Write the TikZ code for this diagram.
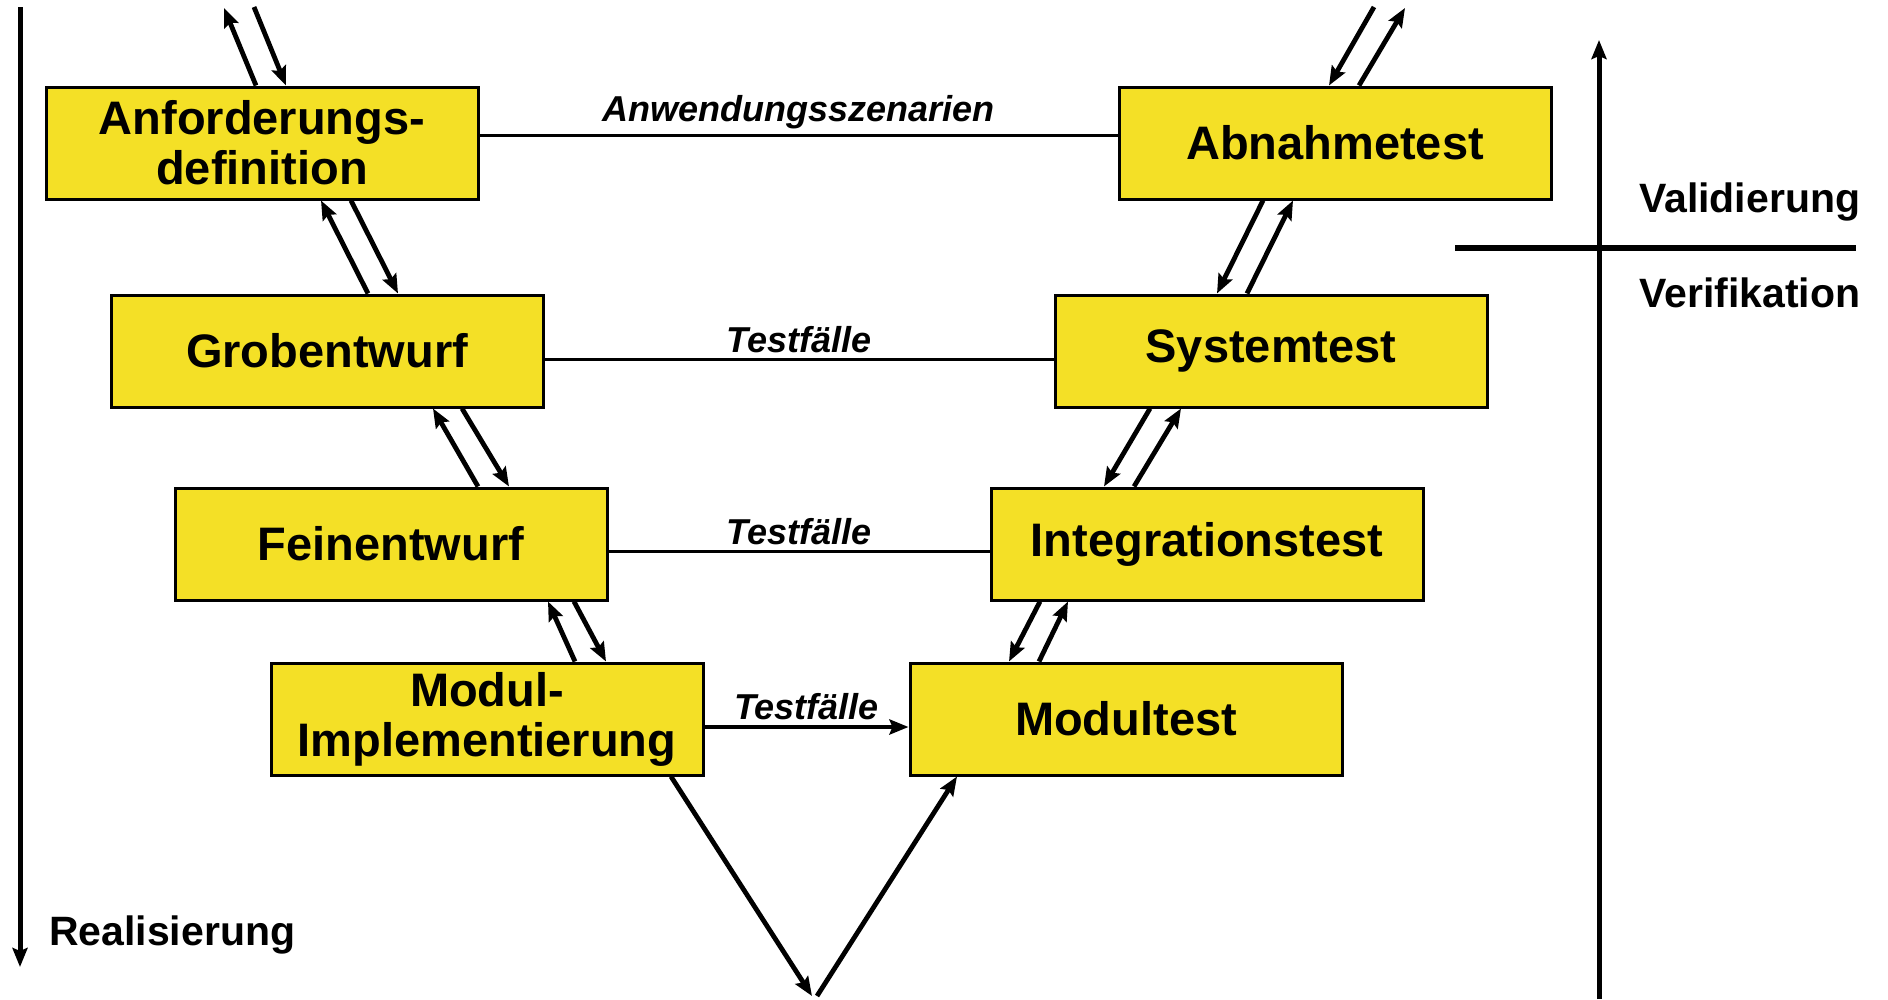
\documentclass[tikz,border=0pt]{standalone}
\usepackage{fontspec}
\setmainfont{Liberation Sans}
\usetikzlibrary{arrows.meta}
\definecolor{vyellow}{RGB}{244,224,38}
\tikzset{
  box/.style={draw, line width=3pt, fill=vyellow, align=center, minimum width=432pt, minimum height=112pt, inner sep=0pt, font=\fontsize{47}{50}\selectfont\bfseries},
  lbl/.style={above, inner sep=5pt, font=\fontsize{36}{40}\selectfont\bfseries\itshape},
  side/.style={font=\fontsize{41}{44}\selectfont\bfseries, inner sep=0pt, anchor=base west},
  flow/.style={line width=4.8pt, -{Stealth[length=19pt, width=15pt, inset=3pt]}}
}
\begin{document}
\begin{tikzpicture}[x=1pt, y=-1pt]
    \useasboundingbox (0,0) rectangle (1888,999);
    % left branch
    \node[box] (A) at (262,143) {Anforderungs-\\definition};
    \node[box] (B) at (327,351) {Grobentwurf};
    \node[box] (C) at (391,544) {Feinentwurf};
    \node[box] (D) at (487,719) {Modul-\\Implementierung};
    % right branch
    \node[box] (E) at (1335,143) {Abnahmetest};
    \node[box] (F) at (1271,351) {Systemtest};
    \node[box] (G) at (1207,544) {Integrationstest};
    \node[box] (H) at (1126,719) {Modultest};

    \draw[line width=3pt] ([yshift=8pt]A.east) -- node[lbl] (L1) {Anwendungsszenarien} ([yshift=8pt]E.west);
    \draw[line width=3pt] ([yshift=-8pt]B.east) -- node[lbl] (L2) {Testfälle} ([yshift=-8pt]F.west);
    \draw[line width=3pt] ([yshift=-7pt]C.east) -- node[lbl] (L3) {Testfälle} ([yshift=-7pt]G.west);
    \draw[flow] ([yshift=-8pt]D.east) -- node[lbl] (L4) {Testfälle} ([yshift=-8pt]H.west);

    % arrows between the stages
    \coordinate (AU) at (224,8);
    \coordinate (AD) at (254,7);
    \draw[flow] ([xshift=-6pt]A.north) -- (AU);
    \draw[flow] (AD) -- ([xshift=24pt]A.north);
    \draw[flow] ([xshift=41pt]B.north) -- ([xshift=59pt]A.south);
    \draw[flow] ([xshift=89pt]A.south) -- ([xshift=71pt]B.north);
    \draw[flow] ([xshift=87pt]C.north) -- ([xshift=106pt]B.south);
    \draw[flow] ([xshift=135pt]B.south) -- ([xshift=118pt]C.north);
    \draw[flow] ([xshift=88pt]D.north) -- ([xshift=157pt]C.south);
    \draw[flow] ([xshift=183pt]C.south) -- ([xshift=119pt]D.north);

    \coordinate (ED) at (1374,7);
    \coordinate (EU) at (1405,8);
    \draw[flow] (ED) -- ([xshift=-6pt]E.north);
    \draw[flow] ([xshift=24pt]E.north) -- (EU);
    \draw[flow] ([xshift=-72pt]E.south) -- ([xshift=-54pt]F.north);
    \draw[flow] ([xshift=-24pt]F.north) -- ([xshift=-42pt]E.south);
    \draw[flow] ([xshift=-121pt]F.south) -- ([xshift=-103pt]G.north);
    \draw[flow] ([xshift=-73pt]G.north) -- ([xshift=-90pt]F.south);
    \draw[flow] ([xshift=-167pt]G.south) -- ([xshift=-117pt]H.north);
    \draw[flow] ([xshift=-87pt]H.north) -- ([xshift=-139pt]G.south);

    % bottom of the V
    \coordinate (VL) at (812,996);
    \coordinate (VR) at (817,996);
    \draw[flow] ([xshift=184pt]D.south) -- (VL);
    \draw[flow] (VR) -- ([xshift=-169pt]H.south);

    % axes
    \coordinate (R0) at (20,7);
    \coordinate (R1) at (20,967);
    \draw[flow, line width=5pt] (R0) -- (R1);
    \node[side] (R) at (49,945) {Realisierung};

    \coordinate (V0) at (1599,999);
    \coordinate (V1) at (1599,40);
    \draw[flow, line width=5pt] (V0) -- (V1);
    \coordinate (S0) at (1455,248);
    \coordinate (S1) at (1856,248);
    \draw[line width=6pt] (S0) -- (S1);
    \node[side] (VA) at (1639,212) {Validierung};
    \node[side] (VE) at (1639,307) {Verifikation};
\end{tikzpicture}
\end{document}
